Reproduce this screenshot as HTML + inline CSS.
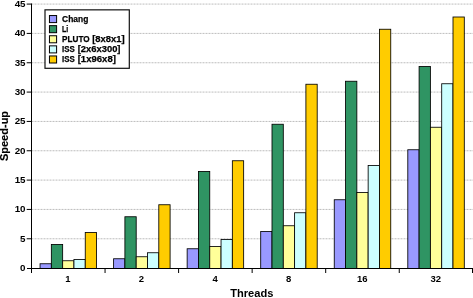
<!DOCTYPE html>
<html><head><meta charset="utf-8"><title>Speed-up</title>
<style>
html,body{margin:0;padding:0;background:#fff;}
body{width:473px;height:298px;overflow:hidden;}
svg{display:block;will-change:transform;}
text{font-family:"Liberation Sans",sans-serif;fill:#000;}
</style></head><body>
<svg width="473" height="298" viewBox="0 0 473 298">
<rect width="473" height="298" fill="#fff"/>
<line x1="31.5" y1="238.77" x2="473" y2="238.77" stroke="#bdbdbd" stroke-width="1" stroke-dasharray="2 1"/>
<line x1="31.5" y1="209.43" x2="473" y2="209.43" stroke="#bdbdbd" stroke-width="1" stroke-dasharray="2 1"/>
<line x1="31.5" y1="180.10" x2="473" y2="180.10" stroke="#bdbdbd" stroke-width="1" stroke-dasharray="2 1"/>
<line x1="31.5" y1="150.76" x2="473" y2="150.76" stroke="#bdbdbd" stroke-width="1" stroke-dasharray="2 1"/>
<line x1="31.5" y1="121.43" x2="473" y2="121.43" stroke="#bdbdbd" stroke-width="1" stroke-dasharray="2 1"/>
<line x1="31.5" y1="92.09" x2="473" y2="92.09" stroke="#bdbdbd" stroke-width="1" stroke-dasharray="2 1"/>
<line x1="31.5" y1="62.76" x2="473" y2="62.76" stroke="#bdbdbd" stroke-width="1" stroke-dasharray="2 1"/>
<line x1="31.5" y1="33.42" x2="473" y2="33.42" stroke="#bdbdbd" stroke-width="1" stroke-dasharray="2 1"/>
<line x1="31.5" y1="4.09" x2="473" y2="4.09" stroke="#bdbdbd" stroke-width="1" stroke-dasharray="2 1"/>
<rect x="40.05" y="263.75" width="11.3" height="4.75" fill="#9999ff" stroke="#000" stroke-width="0.85"/>
<rect x="51.35" y="244.50" width="11.3" height="24.00" fill="#2f9463" stroke="#000" stroke-width="0.85"/>
<rect x="62.65" y="260.75" width="11.3" height="7.75" fill="#ffff99" stroke="#000" stroke-width="0.85"/>
<rect x="73.95" y="259.50" width="11.3" height="9.00" fill="#ccffff" stroke="#000" stroke-width="0.85"/>
<rect x="85.25" y="232.50" width="11.3" height="36.00" fill="#ffcc00" stroke="#000" stroke-width="0.85"/>
<rect x="113.60" y="258.75" width="11.3" height="9.75" fill="#9999ff" stroke="#000" stroke-width="0.85"/>
<rect x="124.90" y="216.75" width="11.3" height="51.75" fill="#2f9463" stroke="#000" stroke-width="0.85"/>
<rect x="136.20" y="256.75" width="11.3" height="11.75" fill="#ffff99" stroke="#000" stroke-width="0.85"/>
<rect x="147.50" y="252.75" width="11.3" height="15.75" fill="#ccffff" stroke="#000" stroke-width="0.85"/>
<rect x="158.80" y="204.75" width="11.3" height="63.75" fill="#ffcc00" stroke="#000" stroke-width="0.85"/>
<rect x="187.15" y="248.75" width="11.3" height="19.75" fill="#9999ff" stroke="#000" stroke-width="0.85"/>
<rect x="198.45" y="171.50" width="11.3" height="97.00" fill="#2f9463" stroke="#000" stroke-width="0.85"/>
<rect x="209.75" y="246.50" width="11.3" height="22.00" fill="#ffff99" stroke="#000" stroke-width="0.85"/>
<rect x="221.05" y="239.50" width="11.3" height="29.00" fill="#ccffff" stroke="#000" stroke-width="0.85"/>
<rect x="232.35" y="160.75" width="11.3" height="107.75" fill="#ffcc00" stroke="#000" stroke-width="0.85"/>
<rect x="260.70" y="231.50" width="11.3" height="37.00" fill="#9999ff" stroke="#000" stroke-width="0.85"/>
<rect x="272.00" y="124.25" width="11.3" height="144.25" fill="#2f9463" stroke="#000" stroke-width="0.85"/>
<rect x="283.30" y="225.75" width="11.3" height="42.75" fill="#ffff99" stroke="#000" stroke-width="0.85"/>
<rect x="294.60" y="212.75" width="11.3" height="55.75" fill="#ccffff" stroke="#000" stroke-width="0.85"/>
<rect x="305.90" y="84.25" width="11.3" height="184.25" fill="#ffcc00" stroke="#000" stroke-width="0.85"/>
<rect x="334.25" y="199.75" width="11.3" height="68.75" fill="#9999ff" stroke="#000" stroke-width="0.85"/>
<rect x="345.55" y="81.25" width="11.3" height="187.25" fill="#2f9463" stroke="#000" stroke-width="0.85"/>
<rect x="356.85" y="192.50" width="11.3" height="76.00" fill="#ffff99" stroke="#000" stroke-width="0.85"/>
<rect x="368.15" y="165.50" width="11.3" height="103.00" fill="#ccffff" stroke="#000" stroke-width="0.85"/>
<rect x="379.45" y="29.25" width="11.3" height="239.25" fill="#ffcc00" stroke="#000" stroke-width="0.85"/>
<rect x="407.80" y="149.75" width="11.3" height="118.75" fill="#9999ff" stroke="#000" stroke-width="0.85"/>
<rect x="419.10" y="66.50" width="11.3" height="202.00" fill="#2f9463" stroke="#000" stroke-width="0.85"/>
<rect x="430.40" y="127.25" width="11.3" height="141.25" fill="#ffff99" stroke="#000" stroke-width="0.85"/>
<rect x="441.70" y="83.75" width="11.3" height="184.75" fill="#ccffff" stroke="#000" stroke-width="0.85"/>
<rect x="453.00" y="17.00" width="11.3" height="251.50" fill="#ffcc00" stroke="#000" stroke-width="0.85"/>
<line x1="31.5" y1="3.5" x2="31.5" y2="273" stroke="#000" stroke-width="1"/>
<line x1="27" y1="268.5" x2="473" y2="268.5" stroke="#000" stroke-width="1.2"/>
<line x1="26.7" y1="238.77" x2="31.5" y2="238.77" stroke="#000" stroke-width="1"/>
<line x1="26.7" y1="209.43" x2="31.5" y2="209.43" stroke="#000" stroke-width="1"/>
<line x1="26.7" y1="180.10" x2="31.5" y2="180.10" stroke="#000" stroke-width="1"/>
<line x1="26.7" y1="150.76" x2="31.5" y2="150.76" stroke="#000" stroke-width="1"/>
<line x1="26.7" y1="121.43" x2="31.5" y2="121.43" stroke="#000" stroke-width="1"/>
<line x1="26.7" y1="92.09" x2="31.5" y2="92.09" stroke="#000" stroke-width="1"/>
<line x1="26.7" y1="62.76" x2="31.5" y2="62.76" stroke="#000" stroke-width="1"/>
<line x1="26.7" y1="33.42" x2="31.5" y2="33.42" stroke="#000" stroke-width="1"/>
<line x1="26.7" y1="4.09" x2="31.5" y2="4.09" stroke="#000" stroke-width="1"/>
<line x1="105.05" y1="268.5" x2="105.05" y2="273" stroke="#000" stroke-width="1"/>
<line x1="178.60" y1="268.5" x2="178.60" y2="273" stroke="#000" stroke-width="1"/>
<line x1="252.15" y1="268.5" x2="252.15" y2="273" stroke="#000" stroke-width="1"/>
<line x1="325.70" y1="268.5" x2="325.70" y2="273" stroke="#000" stroke-width="1"/>
<line x1="399.25" y1="268.5" x2="399.25" y2="273" stroke="#000" stroke-width="1"/>
<line x1="472.50" y1="268.5" x2="472.50" y2="273" stroke="#000" stroke-width="1"/>
<text x="25.55" y="270.80" font-size="9.8" font-weight="bold" text-anchor="end">0</text>
<text x="25.55" y="241.77" font-size="9.8" font-weight="bold" text-anchor="end">5</text>
<text x="25.55" y="212.43" font-size="9.8" font-weight="bold" text-anchor="end">10</text>
<text x="25.55" y="183.10" font-size="9.8" font-weight="bold" text-anchor="end">15</text>
<text x="25.55" y="153.76" font-size="9.8" font-weight="bold" text-anchor="end">20</text>
<text x="25.55" y="124.43" font-size="9.8" font-weight="bold" text-anchor="end">25</text>
<text x="25.55" y="95.09" font-size="9.8" font-weight="bold" text-anchor="end">30</text>
<text x="25.55" y="65.76" font-size="9.8" font-weight="bold" text-anchor="end">35</text>
<text x="25.55" y="36.42" font-size="9.8" font-weight="bold" text-anchor="end">40</text>
<text x="25.55" y="6.59" font-size="9.8" font-weight="bold" text-anchor="end">45</text>
<text x="67.98" y="282" font-size="9.5" font-weight="bold" text-anchor="middle">1</text>
<text x="141.52" y="282" font-size="9.5" font-weight="bold" text-anchor="middle">2</text>
<text x="215.07" y="282" font-size="9.5" font-weight="bold" text-anchor="middle">4</text>
<text x="288.62" y="282" font-size="9.5" font-weight="bold" text-anchor="middle">8</text>
<text x="362.17" y="282" font-size="9.5" font-weight="bold" text-anchor="middle">16</text>
<text x="435.72" y="282" font-size="9.5" font-weight="bold" text-anchor="middle">32</text>
<text x="251.8" y="297.3" font-size="10.9" font-weight="bold" text-anchor="middle" textLength="43.2" lengthAdjust="spacingAndGlyphs">Threads</text>
<text transform="translate(8.4,136) rotate(-90)" font-size="10.3" font-weight="bold" stroke="#000" stroke-width="0.15" text-anchor="middle" textLength="50.2" lengthAdjust="spacingAndGlyphs">Speed-up</text>
<rect x="45.0" y="9.85" width="84.3" height="58.45" fill="#fff" stroke="#111" stroke-width="1.2"/>
<rect x="49.45" y="15.55" width="7.15" height="7.05" fill="#9999ff" stroke="#000" stroke-width="1"/>
<text x="62.1" y="22.00" font-size="9.4" font-weight="bold" stroke="#000" stroke-width="0.25" textLength="26.2" lengthAdjust="spacingAndGlyphs">Chang</text>
<rect x="49.45" y="25.65" width="7.15" height="7.05" fill="#2f9463" stroke="#000" stroke-width="1"/>
<text x="62.1" y="32.05" font-size="9.4" font-weight="bold" stroke="#000" stroke-width="0.25" textLength="6.2" lengthAdjust="spacingAndGlyphs">Li</text>
<rect x="49.45" y="35.75" width="7.15" height="7.05" fill="#ffff99" stroke="#000" stroke-width="1"/>
<text x="62.1" y="42.10" font-size="9.4" font-weight="bold" stroke="#000" stroke-width="0.25" textLength="27.5" lengthAdjust="spacingAndGlyphs">PLUTO</text>
<text x="92.2" y="42.10" font-size="9.4" font-weight="bold" stroke="#000" stroke-width="0.25" textLength="32.5" lengthAdjust="spacingAndGlyphs">[8x8x1]</text>
<rect x="49.45" y="45.85" width="7.15" height="7.05" fill="#ccffff" stroke="#000" stroke-width="1"/>
<text x="62.1" y="52.15" font-size="9.4" font-weight="bold" stroke="#000" stroke-width="0.25" textLength="12.7" lengthAdjust="spacingAndGlyphs">ISS</text>
<text x="77.7" y="52.15" font-size="9.4" font-weight="bold" stroke="#000" stroke-width="0.25" textLength="42.8" lengthAdjust="spacingAndGlyphs">[2x6x300]</text>
<rect x="49.45" y="55.95" width="7.15" height="7.05" fill="#ffcc00" stroke="#000" stroke-width="1"/>
<text x="62.1" y="62.20" font-size="9.4" font-weight="bold" stroke="#000" stroke-width="0.25" textLength="12.7" lengthAdjust="spacingAndGlyphs">ISS</text>
<text x="77.7" y="62.20" font-size="9.4" font-weight="bold" stroke="#000" stroke-width="0.25" textLength="38.2" lengthAdjust="spacingAndGlyphs">[1x96x8]</text>
</svg>
</body></html>
